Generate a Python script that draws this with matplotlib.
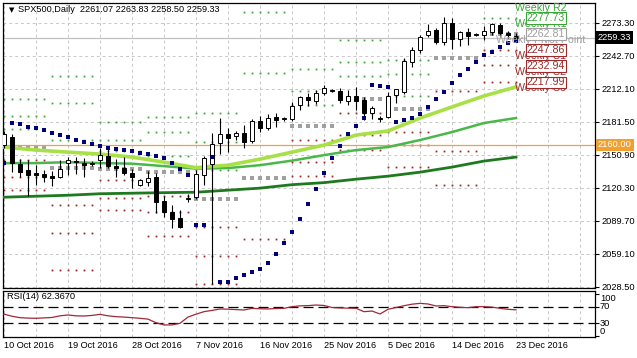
import numpy as np
import pandas as pd
import matplotlib
matplotlib.use('Agg')
import matplotlib.pyplot as plt
from matplotlib.patches import Rectangle
from matplotlib.transforms import blended_transform_factory

plt.rcParams['font.family'] = ['Liberation Sans', 'DejaVu Sans']

# daily bars of the CFD, the Sunday session included, Saturdays skipped
days = pd.date_range('2016-10-10', '2016-12-23', freq='D')
days = days[days.dayofweek != 5]

opens = [2160, 2167, 2142, 2137, 2134, 2133, 2131, 2130, 2143, 2145,
         2143, 2142, 2146, 2150, 2140, 2139, 2134, 2123, 2126, 2130,
         2108, 2098, 2092, 2110, 2112, 2132, 2142, 2162, 2170, 2168,
         2171, 2164, 2182, 2176, 2186, 2184, 2184, 2197, 2204, 2201,
         2208, 2210, 2210, 2201, 2205, 2202, 2190, 2184, 2186, 2206,
         2209, 2237, 2248, 2262, 2267, 2255, 2273, 2258, 2265, 2262,
         2262, 2265, 2271, 2264, 2261.07]
highs = [2173, 2170, 2147, 2146, 2141, 2137, 2136, 2146, 2149, 2149,
         2148, 2145, 2157, 2156, 2147, 2149, 2138, 2128, 2136, 2134,
         2113, 2104, 2100, 2114, 2137, 2150, 2171, 2185, 2176, 2173,
         2178, 2184, 2187, 2189, 2190, 2186, 2200, 2205, 2208, 2211,
         2216, 2212, 2213, 2211, 2214, 2204, 2196, 2187, 2209, 2212,
         2241, 2251, 2262, 2272, 2268, 2278.5, 2278, 2266, 2268, 2264,
         2270, 2273, 2273, 2266, 2263.83]
lows = [2157, 2135, 2130, 2113, 2123, 2126, 2122, 2129, 2132, 2133,
        2130, 2140, 2139, 2139, 2130, 2132, 2120, 2122, 2122, 2097,
        2093, 2083, 2083, 2107, 2110, 2123, 2031, 2152, 2153, 2165,
        2157, 2162, 2172, 2174, 2177, 2182, 2182, 2192, 2196, 2198,
        2206, 2209, 2199, 2197, 2192, 2183, 2184, 2181, 2185, 2199,
        2207, 2232, 2245, 2260, 2254, 2253, 2249, 2252, 2253, 2261,
        2257, 2262, 2260, 2259, 2258.50]
closes = [2170, 2143, 2135, 2132, 2132, 2130, 2129, 2138, 2146, 2144,
          2141, 2143, 2151, 2140, 2139, 2134, 2130, 2127, 2129, 2107,
          2098, 2091, 2084, 2111, 2133, 2148, 2161, 2170, 2166, 2171,
          2163, 2182, 2176, 2185, 2183, 2184.5, 2196, 2204, 2202, 2208,
          2213, 2210.5, 2202, 2205, 2201, 2190, 2194, 2184.5, 2205, 2212,
          2238, 2248, 2260, 2266, 2255, 2273, 2258, 2265, 2261, 2262,
          2266, 2272, 2264, 2262, 2259.33]

# high / low / close of the week before 10 Oct (feeds the first pivot set)
prev_week_hlc = (2170.6, 2142.7, 2162.2)

# parabolic SAR, one dot per bar
sar = [2143.1, 2180.3, 2179.4, 2176.6, 2175.7, 2173.8, 2171.0, 2169.1, 2167.3, 2164.5,
       2162.6, 2160.7, 2158.9, 2157.0, 2156.1, 2155.2, 2154.3, 2152.4, 2151.5, 2149.6,
       2147.8, 2143.1, 2137.5, 2131.9, 2085.4, 2085.4, 2148.7, 2032.4, 2032.4, 2036.2,
       2038.9, 2041.7, 2044.5, 2050.1, 2058.5, 2068.7, 2078.9, 2091.0, 2105.0, 2118.9,
       2133.8, 2147.8, 2158.9, 2170.1, 2177.5, 2184.9, 2215.6, 2214.7, 2213.8, 2181.2,
       2183.1, 2184.9, 2188.7, 2195.2, 2202.6, 2209.1, 2217.5, 2224.9, 2230.5, 2237.0,
       2243.5, 2246.3, 2251.0, 2254.7, 2256.6]

# moving averages read every 4th bar
ma_bars = list(range(0, 65, 4))
ma_fast = [2158.0, 2155.2, 2153.3, 2151.5, 2148.7, 2144.0, 2138.9, 2141.2, 2146.8,
           2153.3, 2159.8, 2169.1, 2172.9, 2184.9, 2195.2, 2205.4, 2213.8]
ma_mid = [2143.1, 2143.1, 2144.0, 2143.1, 2142.6, 2140.3, 2138.0, 2138.5, 2141.2,
          2145.4, 2150.5, 2155.2, 2158.0, 2164.5, 2171.9, 2180.3, 2184.9]
ma_slow = [2111.5, 2112.4, 2113.3, 2114.7, 2115.2, 2115.7, 2116.1, 2118.0, 2119.9,
           2123.1, 2125.0, 2128.2, 2131.0, 2134.7, 2139.4, 2145.0, 2148.7]

rsi = [52, 47, 43.5, 42.5, 42, 43, 44, 48, 50, 48,
       47.5, 49, 51.5, 48, 46, 45, 43.5, 42, 40, 31.5,
       26, 26, 30, 45, 52, 58, 61, 64.5, 64, 63,
       62, 66, 65, 64.5, 65.5, 66, 70, 72, 72.5, 74,
       73, 68, 67, 66.5, 66, 58, 59.5, 52.4, 63.7, 68,
       72.4, 76, 78, 76.5, 71.7, 72.4, 70, 68.5, 67.6, 70,
       70, 69, 66, 63.7, 62.367]

price_ticks = [2273.30, 2242.70, 2212.10, 2181.50, 2150.90, 2120.30, 2089.70, 2059.10, 2028.50]
alert_level = 2160.00
week_names = ['Weekly R2', 'Weekly R1', 'Weekly Pivot Point', 'Weekly S1', 'Weekly S2', 'Weekly S3']
week_values = [2292.68, 2277.73, 2262.81, 2247.86, 2232.94, 2217.99]
title = 'SPX500,Daily  2261.07 2263.83 2258.50 2259.33'

GREEN = '#3aa63a'
GREY = '#a0a0a0'
RED = '#9c2a2a'


def level_colour(name):
    tag = name.split()[-1]
    if tag.startswith('R'):
        return GREEN
    if tag.startswith('S'):
        return RED
    return GREY


W, H = 637, 358
fig = plt.figure(figsize=(W / 100, H / 100), dpi=100)
ax = fig.add_axes([3 / W, 1 - 288.3 / H, 592 / W, 285.3 / H])
axr = fig.add_axes([3 / W, 1 - 336.7 / H, 592 / W, 46 / H], sharex=ax)

n = len(days)
x = np.arange(n)
ax.set_xlim(-0.125, 73.875)
ax.set_ylim(2027.0, 2291.6)
axr.set_ylim(-2.3, 108.5)

# grid
for a in (ax, axr):
    for g in range(0, 76, 4):
        a.axvline(g, color='#c8c8c8', lw=0.7, ls=(0, (3, 3)), zorder=0)
for p in price_ticks:
    ax.axhline(p, color='#c8c8c8', lw=0.7, ls=(0, (3, 3)), zorder=0)

# weekly pivot levels, computed from the previous week (Mon..Sun)
weeks = days.to_period('W-SUN')
hlc = prev_week_hlc
for w in weeks.unique():
    idx = np.where(weeks == w)[0]
    hi, lo, cl = hlc
    pp = (hi + lo + cl) / 3
    res = [2 * pp - lo, pp + hi - lo, hi + 2 * (pp - lo)]
    sup = [2 * pp - hi, pp - (hi - lo), lo - 2 * (hi - pp)]
    for lev in res:
        ax.plot(idx, [lev] * len(idx), ls='none', marker='s', ms=1.3, color=GREEN, mew=0, zorder=1)
    for lev in sup:
        ax.plot(idx, [lev] * len(idx), ls='none', marker='s', ms=1.3, color=RED, mew=0, zorder=1)
    ax.plot(idx, [pp] * len(idx), ls='none', marker='s', ms=2.4, color=GREY, mew=0, zorder=1)
    hlc = (max(highs[i] for i in idx), min(lows[i] for i in idx), closes[idx[-1]])

# horizontal lines
ax.axhline(alert_level, color='#f0a040', lw=0.9, zorder=2)
ax.axhline(closes[-1], color='#c0c0c0', lw=0.9, zorder=2)

# moving averages
ax.plot(ma_bars, ma_slow, color='#1f7a1f', lw=2.0, zorder=3)
ax.plot(ma_bars, ma_mid, color='#48b848', lw=1.8, zorder=3)
ax.plot(ma_bars, ma_fast, color='#a8e048', lw=2.6, zorder=3)

# candles
for i in range(n):
    o, h, l, c = opens[i], highs[i], lows[i], closes[i]
    ax.vlines(i, l, h, color='black', lw=0.8, zorder=4)
    up = c >= o
    ax.add_patch(Rectangle((i - 0.3, min(o, c)), 0.6, max(abs(c - o), 0.4),
                           facecolor='white' if up else 'black', edgecolor='black',
                           lw=0.7, zorder=5))

# parabolic SAR
ax.plot(x, sar, ls='none', marker='s', ms=2.2, color='#00007a', mew=0, zorder=6)

# labels of the current week
lab_x = n + 2.1
box_x = n + 2.75
for name, val in zip(week_names, week_values):
    ax.annotate(name, (lab_x, val), xytext=(0, -6), textcoords='offset pixels',
                color=level_colour(name), fontsize=7.7, ha='center', va='center',
                zorder=7, annotation_clip=False)
for name, val in zip(week_names[1:], week_values[1:]):
    col = level_colour(name)
    ax.text(box_x, val, '%.2f' % val, color=col, fontsize=7.7, ha='center', va='center', zorder=8,
            bbox=dict(boxstyle='square,pad=0.08', fc='white', ec=col, lw=0.8))

# right price scale
for a in (ax, axr):
    a.tick_params(axis='y', right=True, left=False, labelleft=False, labelright=True,
                  length=3, width=0.8, labelsize=6.7, pad=2)
    a.tick_params(axis='x', length=0)
    for s in a.spines.values():
        s.set_linewidth(0.9)
ax.set_yticks(price_ticks)
ax.set_yticklabels(['%.2f' % p for p in price_ticks])
tr = blended_transform_factory(ax.transAxes, ax.transData)
for val, fc in ((alert_level, '#f0a030'), (closes[-1], 'black')):
    ax.text(1 + 3 / 592, val, '%.2f' % val, transform=tr, color='white', fontsize=6.7,
            ha='left', va='center', zorder=9, clip_on=False,
            bbox=dict(boxstyle='square,pad=0.2', fc=fc, ec='none'))
ax.tick_params(axis='x', labelbottom=False)

ax.text(6 / 592, 1 - 7 / 285.3, '\u25bc', transform=ax.transAxes, fontsize=5,
        va='center', ha='left', family=['DejaVu Sans'])
ax.text(15 / 592, 1 - 7 / 285.3, title, transform=ax.transAxes, fontsize=6.6,
        va='center', ha='left')

# RSI panel
axr.plot(x, rsi, color='#a02838', lw=0.9, zorder=3)
for lev in (70, 30):
    axr.axhline(lev, color='black', lw=0.9, ls=(0, (8, 4)), zorder=2)
axr.set_yticks([100, 70, 30, 0])
axr.set_yticklabels([])
tr2 = blended_transform_factory(axr.transAxes, axr.transData)
for val, va in ((100, 'top'), (70, 'center'), (30, 'center'), (0, 'bottom')):
    axr.text(1 + 5 / 592, val, str(val), transform=tr2, fontsize=6.7, ha='left', va=va)
axr.text(4 / 592, 95, 'RSI(14) %.4f' % 62.367, transform=tr2, fontsize=6.7, ha='left', va='center')

lab_idx = list(range(0, n, 8))
axr.set_xticks(lab_idx)
axr.set_xticklabels(['%d %s %d' % (days[i].day, days[i].strftime('%b'), days[i].year) for i in lab_idx],
                    fontsize=6.6, ha='left')
axr.tick_params(axis='x', pad=3)

fig.savefig('out.png', dpi=100)
